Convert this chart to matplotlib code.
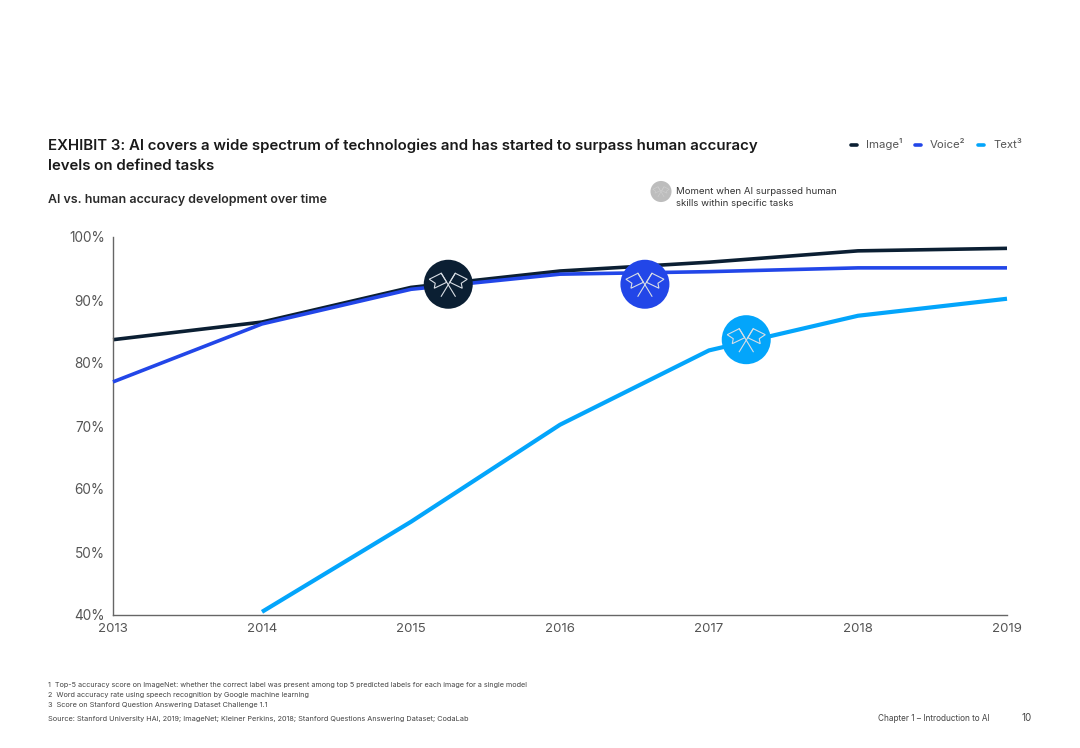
"""AI vs. human accuracy exhibit."""

import matplotlib
matplotlib.use("Agg")
import matplotlib.pyplot as plt
import numpy as np
from matplotlib.patches import Circle, Polygon
from matplotlib.transforms import IdentityTransform

plt.rcParams["font.family"] = ["Inter", "DejaVu Sans"]

years = [2013, 2014, 2015, 2016, 2017, 2018, 2019]
image_acc = [83.7, 86.5, 92.0, 94.6, 96.0, 97.8, 98.2]
voice_acc = [77.0, 86.2, 91.7, 94.1, 94.5, 95.1, 95.1]
text_years = [2014, 2015, 2016, 2017, 2018, 2019]
text_acc = [40.5, 54.8, 70.2, 82.0, 87.5, 90.2]
y_ticks = [40, 50, 60, 70, 80, 90, 100]

# moments when AI passed human skill: year, accuracy
image_moment = (2015.25, 92.5)
voice_moment = (2016.57, 92.5)
text_moment = (2017.25, 83.7)

NAVY = "#0b1f33"
BLUE = "#2246e8"
SKY = "#03a5fb"
W, H = 1080, 748

fig = plt.figure(figsize=(W / 100, H / 100), dpi=100)
ax = fig.add_axes([113 / W, 1 - 615 / H, (1007 - 113) / W, (615 - 237) / H])


def draw_flags(cx, cy, colour, edge="#d9dee5", scale=1.0, lw=0.8):
    """Filled circle with two crossed flags, sized in pixels."""
    tr = IdentityTransform()
    fig.add_artist(Circle((cx, cy), 24.5 * scale, transform=tr, fc=colour, ec="none", zorder=5))
    for sgn in (1, -1):
        pole = np.array([[7, -12], [-7, 11]], dtype=float) * [sgn, 1]
        flag = np.array([[-7, 11], [-19, 5], [-13, 1], [-14, -4], [-1.5, 2]], dtype=float) * [sgn, 1]
        fig.add_artist(plt.Line2D(cx + pole[:, 0] * scale, cy + pole[:, 1] * scale,
                                  transform=tr, color=edge, lw=lw, zorder=6))
        fig.add_artist(Polygon(np.c_[cx + flag[:, 0] * scale, cy + flag[:, 1] * scale],
                               transform=tr, fc="none", ec=edge, lw=lw, zorder=6))


ax.plot(years, image_acc, color=NAVY, lw=2.6, solid_capstyle="butt", clip_on=False, zorder=2)
ax.plot(years, voice_acc, color=BLUE, lw=2.6, solid_capstyle="butt", clip_on=False, zorder=3)
ax.plot(text_years, text_acc, color=SKY, lw=3.0, solid_capstyle="butt", clip_on=False, zorder=3)

ax.set_xlim(2013, 2019)
ax.set_ylim(40, 100)
ax.set_xticks(years)
ax.set_yticks(y_ticks)
ax.set_yticklabels([f"{v}%" for v in y_ticks])
ax.tick_params(length=0, labelcolor="#555555")
ax.tick_params(axis="x", pad=6, labelsize=9.5)
ax.tick_params(axis="y", pad=6, labelsize=9.8)
for side in ("top", "right"):
    ax.spines[side].set_visible(False)
for side in ("left", "bottom"):
    ax.spines[side].set_color("#666666")
    ax.spines[side].set_linewidth(1.0)

fig.canvas.draw()
for moment, colour in [(image_moment, NAVY), (voice_moment, BLUE), (text_moment, SKY)]:
    draw_flags(*ax.transData.transform(moment), colour)


def put(x, y, s, **kw):
    """Place text using reference pixel coordinates."""
    return fig.text(x / W, 1 - y / H, s, **kw)


put(48, 146, "EXHIBIT 3: AI covers a wide spectrum of technologies and has started to surpass human accuracy",
    fontsize=10.8, fontweight="semibold", color="#1a1a1a", va="center")
put(48, 166, "levels on defined tasks", fontsize=10.8, fontweight="semibold", color="#1a1a1a", va="center")
put(48, 200, "AI vs. human accuracy development over time",
    fontsize=8.95, fontweight="semibold", color="#2a2a2a", va="center")

# legend
for x0, colour, label in [(854, NAVY, "Image¹"), (918, BLUE, "Voice²"), (981, SKY, "Text³")]:
    fig.add_artist(plt.Line2D([(x0 - 3) / W, (x0 + 3) / W], [1 - 144.5 / H] * 2,
                              color=colour, lw=2.6, solid_capstyle="round"))
    put(x0 + 12, 144.5, label, fontsize=8.2, color="#555555", va="center")

# moment key
draw_flags(661, H - 191.5, "#bdbdbd", edge="#cfcfcf", scale=0.43, lw=0.4)
put(676, 191.5, "Moment when AI surpassed human", fontsize=6.95, color="#333333", va="center")
put(676, 204, "skills within specific tasks", fontsize=6.95, color="#333333", va="center")

# footnotes
notes = [
    (48, 684.5, "1  Top-5 accuracy score on ImageNet: whether the correct label was present among top 5 predicted labels for each image for a single model", 5.2),
    (48, 694.5, "2  Word accuracy rate using speech recognition by Google machine learning", 5.2),
    (48, 704.5, "3  Score on Stanford Question Answering Dataset Challenge 1.1", 5.27),
    (48, 718.5, "Source: Stanford University HAI, 2019; ImageNet; Kleiner Perkins, 2018; Stanford Questions Answering Dataset; CodaLab", 5.27),
]
for x, y, s, size in notes:
    put(x, y, s, fontsize=size, color="#444444", va="center")
put(878, 718.5, "Chapter 1 – Introduction to AI", fontsize=5.9, color="#444444", va="center")
put(1021, 718, "10", fontsize=7, color="#444444", va="center")

fig.savefig("out.png", dpi=100)
